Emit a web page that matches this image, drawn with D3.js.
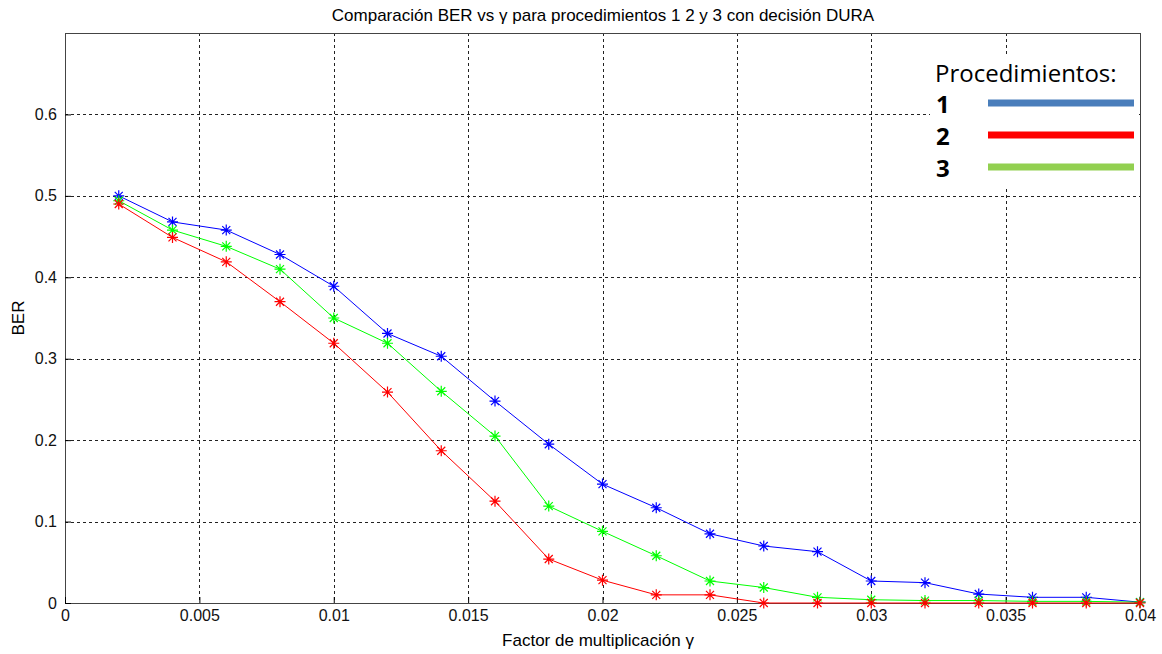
<!DOCTYPE html>
<html>
<head>
<meta charset="utf-8">
<script src="https://cdn.jsdelivr.net/npm/d3@7"></script>
<style>
  body { margin: 0; background: #fff; }
  text { font-family: "Liberation Sans", Arial, sans-serif; }
</style>
</head>
<body>
<div id="chart"></div>
<script>
// gamma values and BER per procedure
var gammaValues = [0.002, 0.004, 0.006, 0.008, 0.010, 0.012, 0.014, 0.016, 0.018, 0.020,
                   0.022, 0.024, 0.026, 0.028, 0.030, 0.032, 0.034, 0.036, 0.038, 0.040];
var ber1 = [0.500, 0.468, 0.458, 0.428, 0.389, 0.331, 0.303, 0.248, 0.195, 0.146,
            0.117, 0.085, 0.070, 0.063, 0.027, 0.025, 0.011, 0.007, 0.007, 0.001];
var ber2 = [0.490, 0.449, 0.419, 0.370, 0.319, 0.259, 0.187, 0.125, 0.054, 0.028,
            0.010, 0.010, 0.000, 0.000, 0.000, 0.000, 0.000, 0.000, 0.000, 0.000];
var ber3 = [0.494, 0.458, 0.438, 0.410, 0.350, 0.319, 0.260, 0.205, 0.119, 0.088,
            0.058, 0.027, 0.019, 0.007, 0.004, 0.003, 0.003, 0.002, 0.002, 0.001];
var xTicks = [0, 0.005, 0.01, 0.015, 0.02, 0.025, 0.03, 0.035, 0.04];
var yTicks = [0, 0.1, 0.2, 0.3, 0.4, 0.5, 0.6];
var legendLabels = ["1", "2", "3"];

var width = 1162, height = 654;
var margin = {top: 33, right: 22, bottom: 51, left: 65};
var plotW = width - margin.left - margin.right;
var plotH = height - margin.top - margin.bottom;

var svg = d3.select("#chart").append("svg")
    .attr("width", width)
    .attr("height", height);

var x = d3.scaleLinear().domain([0, 0.04]).range([margin.left, margin.left + plotW]);
var y = d3.scaleLinear().domain([0, 0.7]).range([margin.top + plotH, margin.top]);

// grid
var grid = svg.append("g").attr("class", "grid");
grid.selectAll("line.gx")
    .data(xTicks.slice(1, -1))
    .enter().append("line")
    .attr("x1", function(d) { return Math.round(x(d)) + 0.5; })
    .attr("x2", function(d) { return Math.round(x(d)) + 0.5; })
    .attr("y1", margin.top)
    .attr("y2", margin.top + plotH)
    .attr("stroke", "#222")
    .attr("stroke-dasharray", "3,3");
grid.selectAll("line.gy")
    .data(yTicks.slice(1))
    .enter().append("line")
    .attr("y1", function(d) { return Math.round(y(d)) + 0.5; })
    .attr("y2", function(d) { return Math.round(y(d)) + 0.5; })
    .attr("x1", margin.left)
    .attr("x2", margin.left + plotW)
    .attr("stroke", "#222")
    .attr("stroke-dasharray", "3,3");

// axes box
svg.append("rect")
    .attr("x", margin.left + 0.5)
    .attr("y", margin.top + 0.5)
    .attr("width", plotW)
    .attr("height", plotH)
    .attr("fill", "none")
    .attr("stroke", "#444");

var xAxis = svg.append("g")
    .attr("transform", "translate(0," + (margin.top + plotH) + ")")
    .call(d3.axisBottom(x).tickValues(xTicks).tickSize(-6).tickPadding(7)
      .tickFormat(function(d) { return d === 0 ? "0" : String(+d.toFixed(3)); }));
xAxis.select(".domain").remove();
xAxis.selectAll("text").style("font-size", "16px").attr("fill", "#111");

var yAxis = svg.append("g")
    .attr("transform", "translate(" + margin.left + ",0)")
    .call(d3.axisLeft(y).tickValues(yTicks).tickSize(-6).tickPadding(8)
      .tickFormat(function(d) { return d === 0 ? "0" : String(+d.toFixed(1)); }));
yAxis.select(".domain").remove();
yAxis.selectAll("text").style("font-size", "16px").attr("fill", "#111");

// title and labels
svg.append("text")
    .attr("x", 603)
    .attr("y", 21)
    .attr("text-anchor", "middle")
    .style("font-size", "17px")
    .text("Comparación BER vs γ para procedimientos 1 2 y 3 con decisión DURA");

svg.append("text")
    .attr("x", 598)
    .attr("y", 646)
    .attr("text-anchor", "middle")
    .style("font-size", "17px")
    .text("Factor de multiplicación γ");

svg.append("text")
    .attr("transform", "translate(24," + (margin.top + plotH / 2) + ") rotate(-90)")
    .attr("text-anchor", "middle")
    .style("font-size", "17px")
    .text("BER");

// series
var series = [
  {values: ber1, color: "#0000ff"},
  {values: ber2, color: "#ff0000"},
  {values: ber3, color: "#00ff00"}
];

var line = d3.line()
    .x(function(d) { return x(d[0]); })
    .y(function(d) { return y(d[1]); });

// draw blue, green then red on top
[0, 2, 1].forEach(function(i) {
  var s = series[i];
  var pts = gammaValues.map(function(g, k) { return [g, s.values[k]]; });
  var g = svg.append("g");
  g.append("path")
      .datum(pts)
      .attr("d", line)
      .attr("fill", "none")
      .attr("stroke", s.color)
      .attr("stroke-width", 1);
  g.selectAll("path.m")
      .data(pts)
      .enter().append("path")
      .attr("transform", function(d) { return "translate(" + x(d[0]) + "," + y(d[1]) + ")"; })
      .attr("d", "M-5.5,0H5.5M0,-5.5V5.5M-4,-4L4,4M-4,4L4,-4")
      .attr("stroke", s.color)
      .attr("stroke-width", 1.2)
      .attr("fill", "none");
});

// legend
var legend = svg.append("g");
legend.append("rect")
    .attr("x", 930).attr("y", 56).attr("width", 208).attr("height", 130)
    .attr("fill", "#fff");
legend.append("text")
    .attr("x", 935)
    .attr("y", 82)
    .style("font-family", "'Open Sans', sans-serif")
    .style("font-size", "24px")
    .text("Procedimientos:");
var legendColors = ["#4a7ebb", "#ff0000", "#92d050"];
legendLabels.forEach(function(lbl, i) {
  var yy = 103 + i * 32;
  legend.append("text")
      .attr("x", 936)
      .attr("y", yy + 10)
      .style("font-family", "'Open Sans', sans-serif")
      .style("font-size", "24px")
      .style("font-weight", "bold")
      .text(lbl);
  legend.append("line")
      .attr("x1", 988).attr("x2", 1134)
      .attr("y1", yy).attr("y2", yy)
      .attr("stroke", legendColors[i])
      .attr("stroke-width", 7);
});
</script>
</body>
</html>
